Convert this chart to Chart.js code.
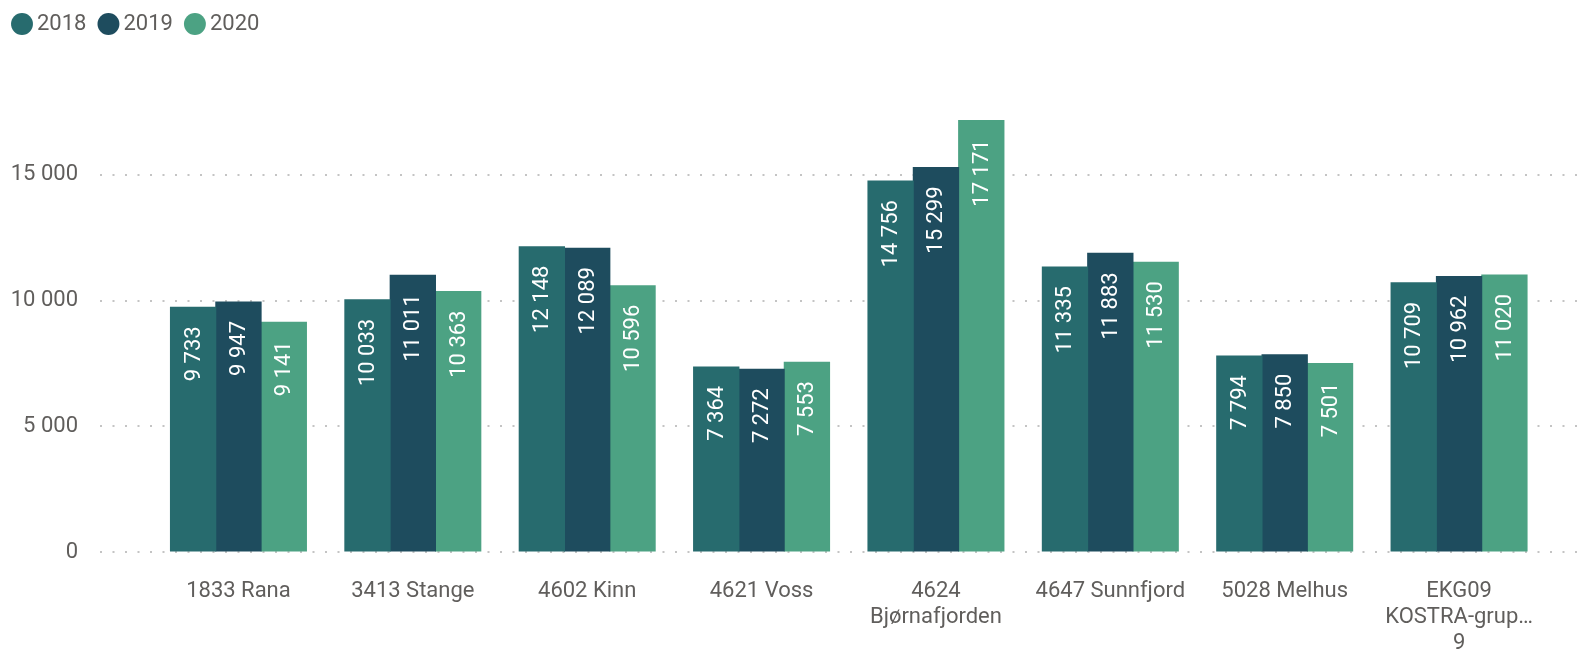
<!DOCTYPE html>
<html>
<head>
<meta charset="utf-8">
<script src="https://cdn.jsdelivr.net/npm/chart.js@4.4.1/dist/chart.umd.min.js"></script>
<style>
  html, body { margin: 0; padding: 0; background: #fff; }
  #wrap { width: 1584px; height: 649px; }
</style>
</head>
<body>
<div id="wrap"><canvas id="bars"></canvas></div>
<script>
var categories = ["1833 Rana", "3413 Stange", "4602 Kinn", "4621 Voss", ["4624", "Bjørnafjorden"], "4647 Sunnfjord", "5028 Melhus", ["EKG09", "KOSTRA-grup…", "9"]];
var years = ["2018", "2019", "2020"];
var values2018 = [9733, 10033, 12148, 7364, 14756, 11335, 7794, 10709];
var values2019 = [9947, 11011, 12089, 7272, 15299, 11883, 7850, 10962];
var values2020 = [9141, 10363, 10596, 7553, 17171, 11530, 7501, 11020];
var yTicks = [0, 5000, 10000, 15000];

var colors = ["#276B6E", "#1E4C5E", "#4CA283"];
var grey = "#605E5C";
var fontName = "Roboto, 'DejaVu Sans', sans-serif";

function spaced(v) {
    return String(v).replace(/\B(?=(\d{3})+(?!\d))/g, " ");
}

function toPoints(arr) {
    return arr.map(function (v, i) { return { x: i, y: v }; });
}

// white rotated value labels at the top of each bar
var barLabels = {
    id: "barLabels",
    afterDatasetsDraw: function (chart) {
        var ctx = chart.ctx;
        ctx.save();
        ctx.font = "22px " + fontName;
        ctx.fillStyle = "#ffffff";
        ctx.textAlign = "right";
        ctx.textBaseline = "middle";
        chart.data.datasets.forEach(function (ds, di) {
            chart.getDatasetMeta(di).data.forEach(function (bar, i) {
                ctx.save();
                ctx.translate(bar.x + 1, bar.y + 19);
                ctx.rotate(-Math.PI / 2);
                ctx.fillText(spaced(ds.data[i].y), 0, 0);
                ctx.restore();
            });
        });
        ctx.restore();
    }
};

var config = {
    type: "bar",
    data: {
        datasets: [
            { label: years[0], data: toPoints(values2018), backgroundColor: colors[0] },
            { label: years[1], data: toPoints(values2019), backgroundColor: colors[1] },
            { label: years[2], data: toPoints(values2020), backgroundColor: colors[2] }
        ]
    },
    options: {
        responsive: true,
        maintainAspectRatio: false,
        animation: false,
        layout: { padding: { top: -5, left: 0, right: 2, bottom: 0 } },
        datasets: { bar: { categoryPercentage: 0.78, barPercentage: 1, borderWidth: 0, inflateAmount: 0.5 } },
        plugins: {
            tooltip: { enabled: false },
            legend: {
                position: "top",
                align: "start",
                labels: {
                    usePointStyle: true,
                    pointStyle: "circle",
                    boxWidth: 8,
                    boxHeight: 15.5,
                    padding: 18,
                    color: grey,
                    font: { family: fontName, size: 22 }
                }
            }
        },
        scales: {
            x: {
                type: "linear",
                offset: false,
                min: -0.794,
                max: 7.705,
                grid: { display: false, drawTicks: false, offset: false },
                border: { display: false },
                afterBuildTicks: function (scale) {
                    scale.ticks = categories.map(function (c, i) { return { value: i }; });
                },
                afterFit: function (scale) { scale.height = 97; },
                ticks: {
                    autoSkip: false,
                    maxRotation: 0,
                    padding: 26,
                    color: grey,
                    font: { family: fontName, size: 22, lineHeight: 26 / 22 },
                    callback: function (v) { return categories[v]; }
                }
            },
            y: {
                min: 0,
                max: 20170,
                grid: { color: "#c4c4c4", lineWidth: 2, drawTicks: false },
                border: { display: false, dash: [2, 10.5] },
                afterBuildTicks: function (scale) {
                    scale.ticks = yTicks.map(function (v) { return { value: v }; });
                },
                afterFit: function (scale) { scale.width = 100; },
                ticks: {
                    padding: 22,
                    color: grey,
                    font: { family: fontName, size: 22 },
                    callback: function (v) { return spaced(v); }
                }
            }
        }
    },
    plugins: [barLabels]
};

var barChart = new Chart(document.getElementById("bars"), config);
</script>
</body>
</html>
